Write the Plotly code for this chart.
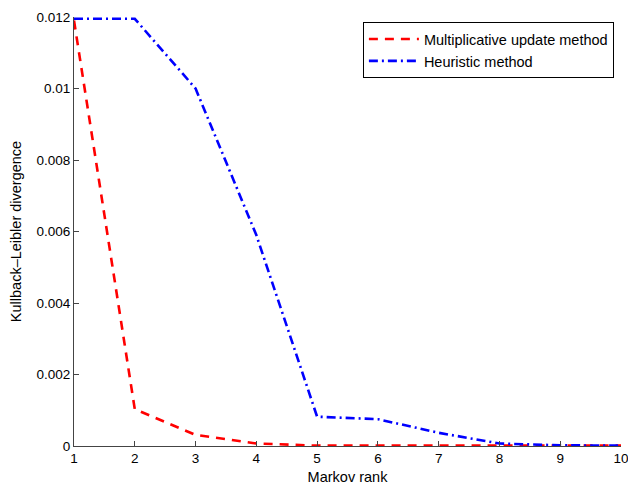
import plotly.graph_objects as go

markov_rank = [1, 2, 3, 4, 5, 6, 7, 8, 9, 10]
multiplicative = [0.0119, 0.00103, 0.00031, 0.00007, 0.00001, 0.00001, 0.00001, 0.00001, 0.00001, 0.00001]
heuristic = [0.01195, 0.01195, 0.0100, 0.0059, 0.00082, 0.00075, 0.00037, 0.00007, 0.00002, 0.00001]

y_ticks = [0, 0.002, 0.004, 0.006, 0.008, 0.01, 0.012]
y_tick_labels = ["0", "0.002", "0.004", "0.006", "0.008", "0.01", "0.012"]
x_ticks = [1, 2, 3, 4, 5, 6, 7, 8, 9, 10]

font_family = "Liberation Sans, Arial, Helvetica, sans-serif"

fig = go.Figure()
fig.add_trace(go.Scatter(
    x=markov_rank, y=multiplicative, mode="lines",
    name="Multiplicative update method",
    line=dict(color="#ff0000", width=2.6, dash="9px,7px"),
))
fig.add_trace(go.Scatter(
    x=markov_rank, y=heuristic, mode="lines",
    name="Heuristic method",
    line=dict(color="#0000ff", width=2.6, dash="9px,4px,2px,4px"),
))

axis_common = dict(
    showgrid=False, zeroline=False, showline=True, linecolor="#444444", linewidth=1,
    ticks="inside", ticklen=5, tickcolor="#444444", tickwidth=1,
    tickfont=dict(family=font_family, size=13.5, color="#000000"),
    mirror=False, automargin=False, ticklabeloverflow="allow",
)

fig.update_layout(
    width=628, height=485,
    margin=dict(l=74, r=7, t=17, b=39),
    paper_bgcolor="white", plot_bgcolor="white",
    font=dict(family=font_family, size=14.5, color="#000000"),
    showlegend=True,
    legend=dict(
        x=0.987, y=0.988, xanchor="right", yanchor="top",
        bordercolor="#000000", borderwidth=1, bgcolor="white",
        font=dict(family=font_family, size=14.5, color="#000000"),
        tracegroupgap=0, itemwidth=50,
    ),
    xaxis=dict(
        range=[1, 10], tickvals=x_ticks, ticktext=[str(v) for v in x_ticks],
        title=dict(text="Markov rank", standoff=6,
                   font=dict(family=font_family, size=14.5, color="#000000")),
        **axis_common,
    ),
    yaxis=dict(
        range=[0, 0.012], tickvals=y_ticks, ticktext=y_tick_labels,
        title=dict(text="Kullback–Leibler divergence", standoff=11,
                   font=dict(family=font_family, size=14.5, color="#000000")),
        **axis_common,
    ),
)

fig.write_html(
    "out.html",
    config={"displayModeBar": False},
    post_script="document.body.style.margin='0';document.body.style.overflow='hidden';",
)
